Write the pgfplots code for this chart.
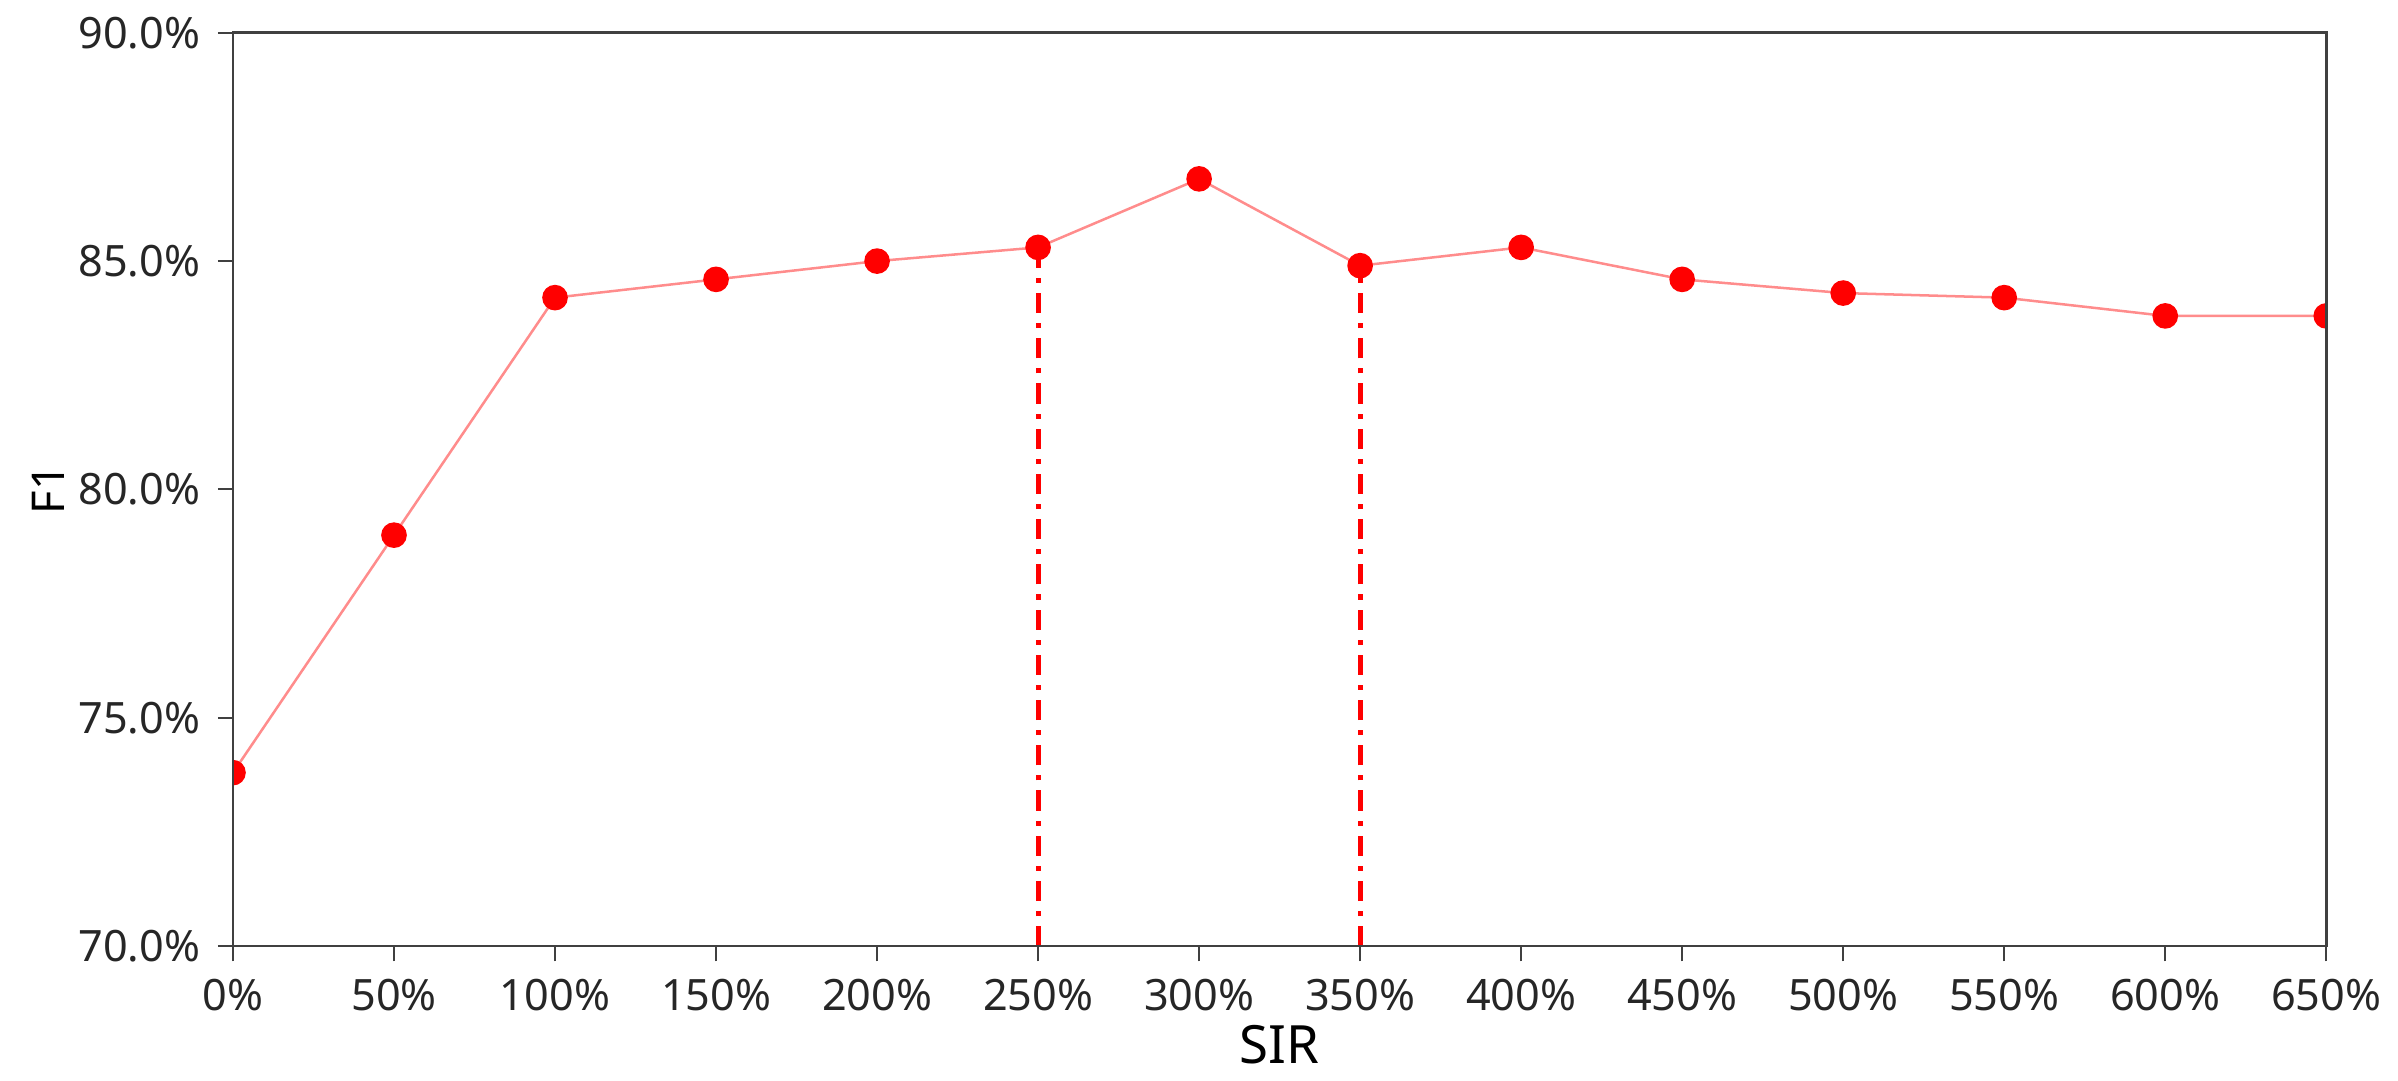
\documentclass[border=0pt]{standalone}
\usepackage{fontspec}
\setmainfont{Noto Sans}
\usepackage{pgfplots}
\pgfplotsset{compat=1.18}
\begin{document}
\begin{tikzpicture}
\begin{axis}[
  scale only axis,
  width=416.6pt, height=181.8pt,
  xmin=0, xmax=650, ymin=70, ymax=90,
  xtick={0,50,...,650},
  ytick={70,75,80,85,90},
  xticklabel={\pgfmathprintnumber[fixed,precision=0]{\tick}\%},
  yticklabel={\pgfmathprintnumber[fixed,fixed zerofill,precision=1]{\tick}\%},
  /pgf/number format/assume math mode=true,
  tick label style={font=\fontsize{8.6}{10}\selectfont, text=black!85},
  tick align=outside,
  xtick pos=bottom, ytick pos=left,
  major tick length=3pt,
  tick style={black!75, line width=0.4pt},
  axis line style={black!75, line width=0.5pt},
  xlabel={SIR}, ylabel={F1},
  xlabel style={font=\fontsize{10.5}{12}\selectfont, yshift=4pt},
  ylabel style={font=\fontsize{9}{11}\selectfont, yshift=-4pt},
  clip marker paths=true,
  axis on top,
]
\addplot[red, line width=1pt, dash pattern=on 4pt off 2pt on 1pt off 2pt] coordinates {(250,70) (250,85.3)};
\addplot[red, line width=1pt, dash pattern=on 4pt off 2pt on 1pt off 2pt] coordinates {(350,70) (350,84.9)};
\addplot[red!45, line width=0.5pt, mark=*, mark size=2.3pt,
  mark options={draw=red, fill=red, solid}] coordinates {
(0,73.8) (50,79.0) (100,84.2) (150,84.6) (200,85.0) (250,85.3) (300,86.8)
(350,84.9) (400,85.3) (450,84.6) (500,84.3) (550,84.2) (600,83.8) (650,83.8)
};
\end{axis}
\path ([xshift=-3pt]current bounding box.west) -- (current bounding box.east);
\end{tikzpicture}
\end{document}
